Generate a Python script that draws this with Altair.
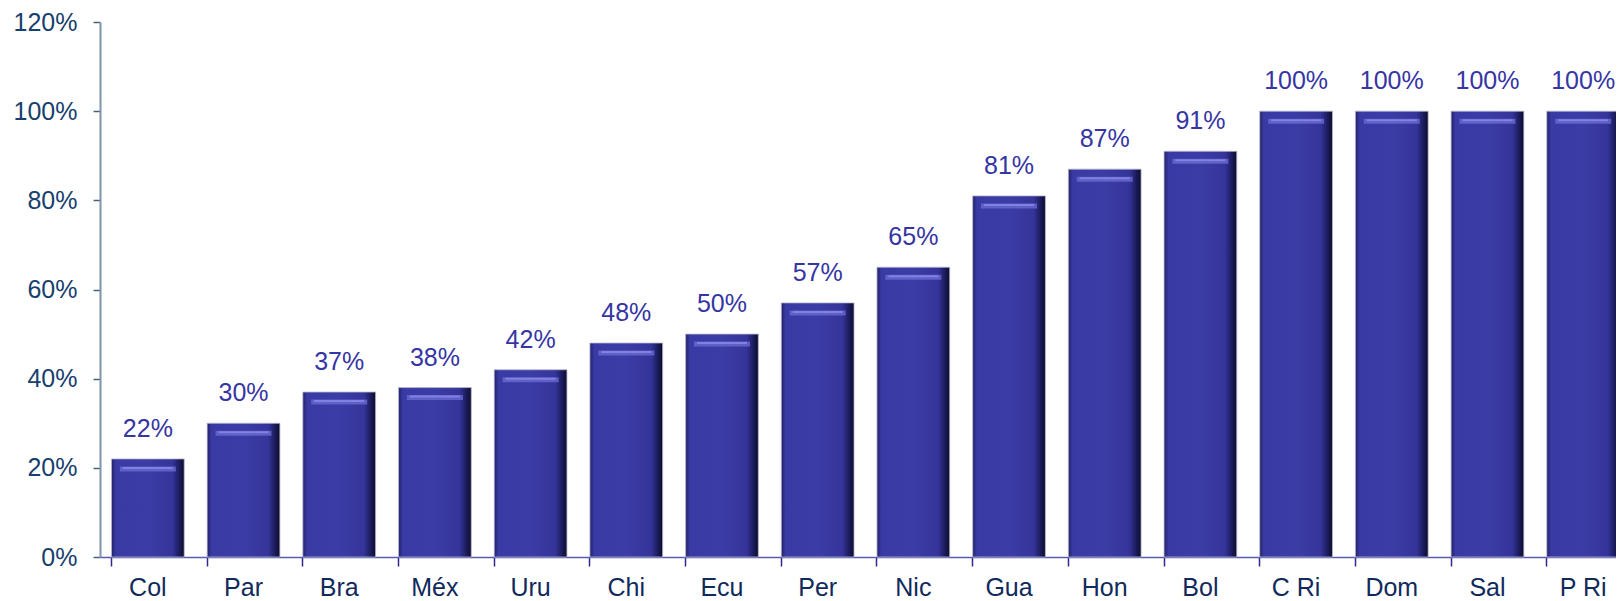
import altair as alt
import pandas as pd

countries = ["Col", "Par", "Bra", "Méx", "Uru", "Chi", "Ecu", "Per",
             "Nic", "Gua", "Hon", "Bol", "C Ri", "Dom", "Sal", "P Ri"]
values = [22, 30, 37, 38, 42, 48, 50, 57, 65, 81, 87, 91, 100, 100, 100, 100]
y_ticks = [0, 0.2, 0.4, 0.6, 0.8, 1.0, 1.2]

df = pd.DataFrame({"country": countries, "value": [v / 100 for v in values],
                   "label": [f"{v}%" for v in values]})

FONT = "Liberation Sans"

x = alt.X("country:N", sort=countries, title=None,
          scale=alt.Scale(paddingInner=0.24, paddingOuter=0.12, range=[0, 1531]),
          axis=alt.Axis(labelAngle=0, bandPosition=0, labelFont=FONT, labelFontSize=25,
                        labelColor="#102a5c", labelPadding=9, tickSize=9,
                        tickColor="#2a2a90", domainColor="#5b5bae", domainWidth=1.5,
                        tickWidth=1.5))
y = alt.Y("value:Q", title=None,
          scale=alt.Scale(domain=[0, 1.2], nice=False),
          axis=alt.Axis(values=y_ticks, format=".0%", grid=False, labelFont=FONT,
                        labelFontSize=25, labelColor="#17406d", labelPadding=16,
                        tickSize=7, tickColor="#4a6080", domainColor="#7e93ad",
                        domainWidth=2, tickWidth=1.5))

grad = alt.Gradient(gradient="linear", x1=0, x2=1, y1=0, y2=0, stops=[
    alt.GradientStop(offset=0, color="#22226a"),
    alt.GradientStop(offset=0.06, color="#3a3aa4"),
    alt.GradientStop(offset=0.5, color="#3c3ca6"),
    alt.GradientStop(offset=0.84, color="#34349a"),
    alt.GradientStop(offset=0.94, color="#1a1a58"),
    alt.GradientStop(offset=1, color="#0c0c2c"),
])

base = alt.Chart(df)
bars = base.mark_bar(color=grad, stroke="#b8b8cc", strokeWidth=0.8).encode(x=x, y=y)
highlight = base.mark_tick(color="#6e6ed6", thickness=5, size=56, yOffset=10,
                           opacity=0.75).encode(x=x, y=y)
highlight2 = base.mark_tick(color="#8a8ae6", thickness=2, size=50, yOffset=9,
                            opacity=0.8).encode(x=x, y=y)
labels = base.mark_text(font=FONT, fontSize=25, color="#3535a3", baseline="alphabetic",
                        dy=-22).encode(x=x, y=y, text="label:N")

chart = (bars + highlight + highlight2 + labels).properties(
    width=1516, height=535,
    autosize=alt.AutoSizeParams(type="none"),
    padding={"left": 92, "top": 14, "right": 0, "bottom": 44},
).configure_view(stroke=None)

chart.save("out.html", embed_options={"renderer": "svg", "actions": False})
